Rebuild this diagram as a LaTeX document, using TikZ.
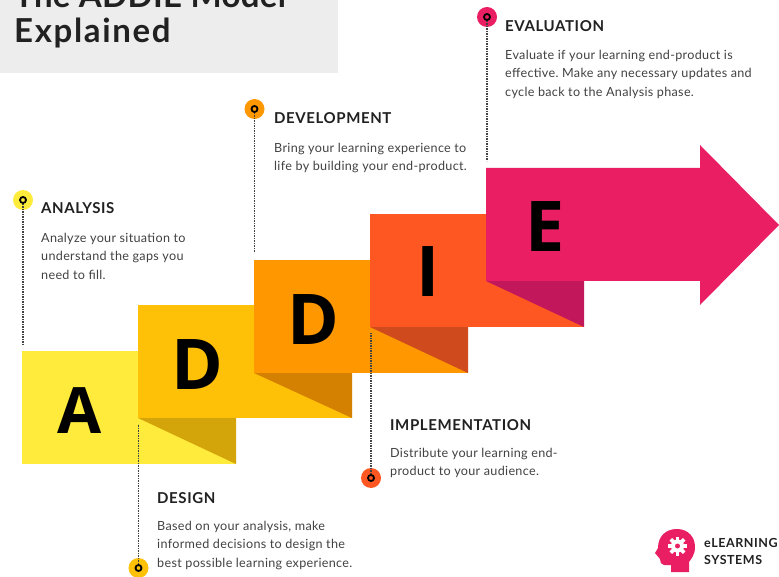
\documentclass[tikz,border=0pt]{standalone}
\usepackage{fontspec}
\setmainfont{Lato}
\newfontfamily\letterfont{Open Sans}
\frenchspacing
\definecolor{stepA}{HTML}{FFEB3B}
\definecolor{stepD}{HTML}{FFC107}
\definecolor{stepV}{HTML}{FF9800}
\definecolor{stepI}{HTML}{FF5722}
\definecolor{stepE}{HTML}{E91E63}
\definecolor{foldD}{HTML}{D4A50A}
\definecolor{foldV}{HTML}{D48000}
\definecolor{foldI}{HTML}{CF4A1C}
\definecolor{foldE}{HTML}{C2185B}
\definecolor{bodygray}{HTML}{424242}
\definecolor{headgray}{HTML}{212121}
\tikzset{letter/.style = {font=\letterfont\fontsize{70}{70}\selectfont\bfseries, text=black, inner sep=0pt},
         heading/.style = {anchor=base west, inner sep=0pt, text=headgray, font=\fontsize{15}{18}\selectfont\bfseries\addfontfeatures{LetterSpace=4}},
         body/.style = {anchor=north west, inner sep=0pt, align=left, text=bodygray, font=\fontsize{12.6}{18.5}\selectfont\addfontfeatures{LetterSpace=2.5}},
         titleline/.style = {anchor=base west, inner sep=0pt, text=headgray, font=\fontsize{33}{33}\selectfont\bfseries\addfontfeatures{LetterSpace=#1}},
         logotext/.style = {anchor=base west, inner sep=0pt, text=headgray, font=\fontsize{12.5}{15}\selectfont\bfseries\addfontfeatures{LetterSpace=4.5}},
         stop/.style = {circle, fill=#1, minimum size=20pt, inner sep=0pt,
                        path picture={\draw[line width=1.8pt, black] (path picture bounding box.center) circle (3pt);}},
         lead/.style = {line width=1.3pt, headgray!85, dash pattern=on 1.3pt off 1.2pt}}

\begin{document}
\begin{tikzpicture}[x=1pt,y=-1pt]
        \clip(0,0)rectangle(779,577);
        \fill[white](0,0)rectangle(779,577);

        % title
        \fill[black!7](0,0)rectangle(338,73);
        \node[titleline=1](title1)at(14,8){The ADDIE Model};
        \node[titleline=5](title2)at(14,43){Explained};

        % steps
        \fill[stepA](22,351)rectangle(236,464);
        \fill[foldD](138,418)--(236,418)--(236,464)--cycle;
        \fill[stepD](138,305)rectangle(352,418);
        \fill[foldV](254,373)--(352,373)--(352,418)--cycle;
        \fill[stepV](254,260)rectangle(468,373);
        \fill[foldI](370,327)--(468,327)--(468,373)--cycle;
        \fill[stepI](370,214)rectangle(584,327);
        \fill[foldE](486,281)--(584,281)--(584,327)--cycle;
        \fill[stepE](486,168)--(700,168)--(700,145)--(779,225)--(700,305)--(700,281)--(486,281)--cycle;

        \node[letter,font=\letterfont\fontsize{64}{64}\selectfont\bfseries](letA)at(79.5,411){A};
        \node[letter](letD)at(197,365){D};
        \node[letter](letV)at(313,320){D};
        \node[letter](letI)at(428,272){I};
        \node[letter](letE)at(545,227){E};

        % stops
        \node[stop=stepA](ana)at(23,200){};
        \node[stop=stepD](des)at(138.5,568){};
        \node[stop=stepV](dev)at(254.5,109){};
        \node[stop=stepI](imp)at(371,478){};
        \node[stop=stepE](eva)at(487,17){};

        \coordinate(anaend)at(23,345);
        \coordinate(desend)at(138.5,424);
        \coordinate(devend)at(254.5,253);
        \coordinate(impend)at(371,333);
        \coordinate(evaend)at(487,161);

        \draw[lead]([yshift=-4pt]ana.center)--(anaend);
        \draw[lead]([yshift=4pt]des.center)--(desend);
        \draw[lead]([yshift=-4pt]dev.center)--(devend);
        \draw[lead]([yshift=4pt]imp.center)--(impend);
        \draw[lead]([yshift=-4pt]eva.center)--(evaend);

        % texts
        \node[heading](anahead)at(41,214){ANALYSIS};
        \node[body](anatext)at(41,233){Analyze your situation to\\understand the gaps you\\need to fill.};
        \node[heading](deshead)at(157,503){DESIGN};
        \node[body](destext)at(157,521){Based on your analysis, make\\informed decisions to design the\\best possible learning experience.};
        \node[heading](devhead)at(274,124){DEVELOPMENT};
        \node[body](devtext)at(274,143){Bring your learning experience to\\life by building your end-product.};
        \node[heading](imphead)at(390,430){IMPLEMENTATION};
        \node[body](imptext)at(390,448){Distribute your learning end-\\product to your audience.};
        \node[heading](evahead)at(505,32){EVALUATION};
        \node[body](evatext)at(505,50){Evaluate if your learning end-product is\\effective. Make any necessary updates and\\cycle back to the Analysis phase.};

        % logo
        \fill[stepE](671,572)--(671,565)--(664,565)..controls(661,565)and(660,562)..(660,559)
            --(655,553)--(658,548)..controls(658,536)and(666,529)..(677,529)
            ..controls(688,529)and(695,537)..(695,547)..controls(695,555)and(691,559)..(689,562)--(689,572)--cycle;
        \fill[white](677.5,546)circle(6.5pt);
        \foreach \ang in {0,45,...,315}
            \fill[white,rotate around={\ang:(677.5,546)}](675.7,536.5)rectangle(679.3,541);
        \fill[stepE](677.5,546)circle(2.5pt);
        \node[logotext](logo1)at(704,547){eLEARNING};
        \node[logotext](logo2)at(704,564){SYSTEMS};
\end{tikzpicture}
\end{document}
